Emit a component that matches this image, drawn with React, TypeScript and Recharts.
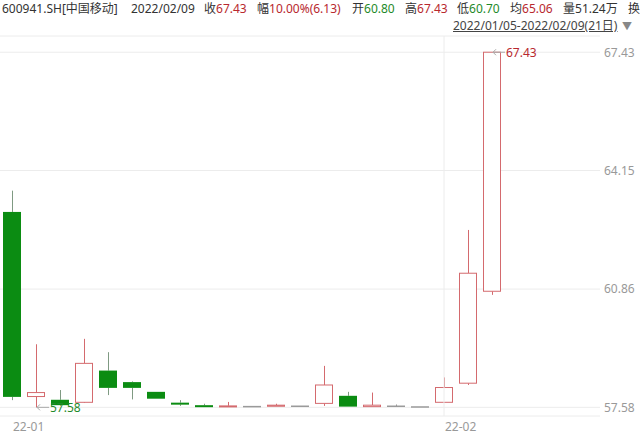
import {
  ComposedChart,
  Bar,
  XAxis,
  YAxis,
  CartesianGrid,
  ReferenceDot,
  ReferenceLine,
} from "recharts"

const dates = [
  "2022-01-05", "2022-01-06", "2022-01-07", "2022-01-10", "2022-01-11",
  "2022-01-12", "2022-01-13", "2022-01-14", "2022-01-17", "2022-01-18",
  "2022-01-19", "2022-01-20", "2022-01-21", "2022-01-24", "2022-01-25",
  "2022-01-26", "2022-01-27", "2022-01-28", "2022-02-07", "2022-02-08",
  "2022-02-09",
]
const opens = [63.0, 57.88, 57.79, 57.72, 58.6, 58.28, 58.01, 57.71, 57.64, 57.6, 57.6, 57.61, 57.61, 57.69, 57.9, 57.6, 57.61, 57.59, 57.72, 58.25, 60.8]
const highs = [63.59, 59.33, 58.06, 59.48, 59.11, 58.3, 58.02, 57.78, 57.68, 57.73, 57.61, 57.68, 57.62, 58.73, 58.01, 57.99, 57.66, 57.6, 58.41, 62.5, 67.43]
const lows = [57.78, 57.58, 57.62, 57.7, 57.92, 57.8, 57.81, 57.62, 57.6, 57.59, 57.59, 57.6, 57.6, 57.62, 57.59, 57.59, 57.6, 57.585, 57.7, 58.2, 60.7]
const closes = [57.87, 57.99, 57.64, 58.8, 58.12, 58.12, 57.82, 57.66, 57.62, 57.62, 57.6, 57.64, 57.61, 58.2, 57.6, 57.64, 57.61, 57.59, 58.13, 61.3, 67.43]

// empty slots to the right of the last candle
const padSlots = ["p1", "p2", "p3", "p4"]

const priceTicks = [57.58, 60.86, 64.15, 67.43]
const monthTicks = ["2022-01-05", "2022-02-07"]
const monthLabels = ["22-01", "22-02"]

const RED = "#d46a6e"
const GREEN = "#0b8c12"
const GREY = "#9a9a9a"

const rows = [
  ...dates.map((d, i) => ({
    date: d,
    open: opens[i],
    high: highs[i],
    low: lows[i],
    close: closes[i],
    range: [lows[i], highs[i]],
  })),
  ...padSlots.map((p) => ({ date: p })),
]

const maxIdx = highs.indexOf(Math.max(...highs))
const minIdx = lows.indexOf(Math.min(...lows))

const Candle = (props: any) => {
  const { x, y, width, height, payload } = props
  if (!payload || payload.open == null) return null
  const { open, high, low, close } = payload
  const yTop = Math.min(y, y + height)
  const h = Math.abs(height)
  const k = h / (high - low)
  const cx = Math.round(x + width / 2) + 0.5
  const top = yTop + (high - Math.max(open, close)) * k
  const bot = yTop + (high - Math.min(open, close)) * k
  const up = close > open
  const flat = close === open
  const wick = up ? RED : flat ? GREY : "#7f9a82"
  return (
    <g>
      {top - yTop > 0.5 && <line x1={cx} x2={cx} y1={yTop} y2={top} stroke={wick} />}
      {yTop + h - bot > 0.5 && <line x1={cx} x2={cx} y1={bot} y2={yTop + h} stroke={wick} />}
      {flat ? (
        <line x1={x} x2={x + width} y1={top} y2={top} stroke={GREY} strokeWidth={1.5} />
      ) : up ? (
        <rect x={x + 0.5} y={top} width={width - 1} height={Math.max(bot - top, 1)} fill="#fff" stroke={RED} />
      ) : (
        <rect x={x} y={top} width={width} height={Math.max(bot - top, 2)} fill={GREEN} />
      )}
    </g>
  )
}

const MaxMark = (props: any) => {
  const { cx, cy } = props
  return (
    <g>
      <path d={`M${cx + 4},${cy - 3} L${cx + 1},${cy} L${cx + 4},${cy + 3}`} stroke="#aaa" fill="none" />
      <line x1={cx + 1} x2={cx + 13} y1={cy} y2={cy} stroke="#aaa" />
      <text x={cx + 14} y={cy} dy="0.36em" fill="#b8282e" fontSize={12} fontFamily="'Noto Sans', sans-serif">
        {highs[maxIdx].toFixed(2)}
      </text>
    </g>
  )
}

const MinMark = (props: any) => {
  const { cx, cy } = props
  return (
    <g>
      <path d={`M${cx + 4},${cy - 3} L${cx + 1},${cy} L${cx + 4},${cy + 3}`} stroke="#aaa" fill="none" />
      <line x1={cx + 1} x2={cx + 13} y1={cy} y2={cy} stroke="#aaa" />
      <text x={cx + 14} y={cy} dy="0.36em" fill="#1f8a2a" fontSize={12} fontFamily="'Noto Sans', sans-serif">
        {lows[minIdx].toFixed(2)}
      </text>
    </g>
  )
}

const XTick = (props: any) => {
  const { x, y, payload } = props
  const i = monthTicks.indexOf(payload.value)
  return (
    <text x={x + 1} y={y - 2} dy="0.71em" textAnchor="start" fill="#999" fontSize={12} fontFamily="'Noto Sans', sans-serif">
      {monthLabels[i]}
    </text>
  )
}

const YTick = (props: any) => {
  const { x, y, payload } = props
  return (
    <text x={x - 4} y={y} dy="0.36em" textAnchor="start" fill="#999" fontSize={12} fontFamily="'Noto Sans', sans-serif">
      {payload.value.toFixed(2)}
    </text>
  )
}

const font = "'Noto Sans', 'Noto Sans CJK SC', sans-serif"
const DARK = "#333"
const VRED = "#b8282e"
const VGREEN = "#1f8a2a"

const Item = ({ left, label, value, color }: any) => (
  <span style={{ position: "absolute", left, top: 0, whiteSpace: "nowrap" }}>
    <span style={{ color: DARK }}>{label}</span>
    <span style={{ color }}>{value}</span>
  </span>
)

export default function App() {
  return (
    <div style={{ position: "absolute", left: 0, top: 0, width: 640, height: 434, background: "#fff", overflow: "hidden", fontFamily: font }}>
      <div style={{ position: "absolute", left: 0, top: 2, width: 640, height: 14, fontSize: 12, lineHeight: "14px" }}>
        <Item left={2} label="600941.SH[中国移动]" value="" color={DARK} />
        <Item left={131} label="2022/02/09" value="" color={DARK} />
        <Item left={204} label="收" value="67.43" color={VRED} />
        <Item left={257} label="幅" value="10.00%(6.13)" color={VRED} />
        <Item left={352} label="开" value="60.80" color={VGREEN} />
        <Item left={405} label="高" value="67.43" color={VRED} />
        <Item left={457} label="低" value="60.70" color={VGREEN} />
        <Item left={510} label="均" value="65.06" color={VRED} />
        <Item left={563} label="量" value="51.24万" color={DARK} />
        <Item left={628} label="换" value="" color={DARK} />
      </div>
      <div style={{ position: "absolute", left: 453, top: 19, fontSize: 12, lineHeight: "14px", color: "#444", textDecoration: "underline", whiteSpace: "nowrap" }}>
        2022/01/05-2022/02/09(21日)
      </div>
      <div style={{ position: "absolute", left: 622, top: 19, fontSize: 10, lineHeight: "14px", color: "#888" }}>▼</div>
      <div style={{ position: "absolute", left: 0, top: 0 }}>
        <ComposedChart width={640} height={434} data={rows} margin={{ top: 36, right: 0, bottom: 0, left: 0 }}>
          <CartesianGrid stroke="#ececec" vertical={false} />
          <XAxis
            dataKey="date"
            height={18}
            ticks={monthTicks}
            interval={0}
            axisLine={false}
            tickLine={false}
            tick={<XTick />}
          />
          <YAxis
            orientation="right"
            width={40}
            domain={[57.34, 67.88]}
            ticks={priceTicks}
            allowDataOverflow
            axisLine={false}
            tickLine={false}
            tick={<YTick />}
          />
          <ReferenceLine x={monthTicks[1]} stroke="#ececec" />
          <Bar dataKey="range" barSize={18} shape={<Candle />} isAnimationActive={false} />
          <ReferenceDot x={dates[maxIdx]} y={highs[maxIdx]} r={0} shape={<MaxMark />} ifOverflow="visible" />
          <ReferenceDot x={dates[minIdx]} y={lows[minIdx]} r={0} shape={<MinMark />} ifOverflow="visible" />
        </ComposedChart>
      </div>
    </div>
  )
}
